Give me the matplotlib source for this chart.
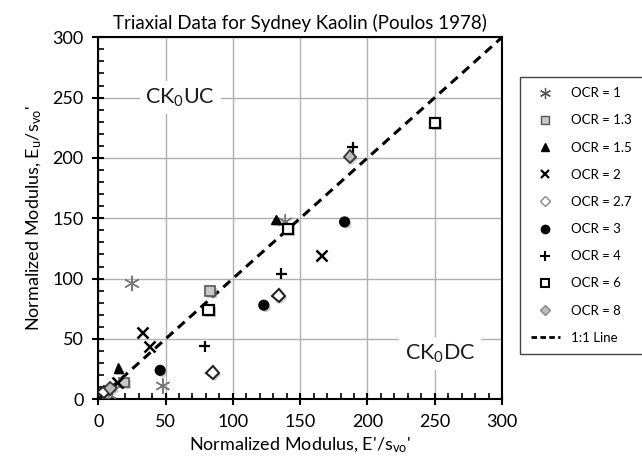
import matplotlib
matplotlib.use("Agg")
import matplotlib.pyplot as plt
import matplotlib.patheffects as pe
from matplotlib.ticker import MultipleLocator
from matplotlib.lines import Line2D

plt.rcParams['font.family'] = ['Lato', 'DejaVu Sans']
plt.rcParams['mathtext.default'] = 'regular'

# Data (E'/svo', Eu/svo')
ocr1_x = [25, 48, 8, 139]
ocr1_y = [96, 11, 4, 147]
ocr13_x = [83, 19]
ocr13_y = [90, 14]
ocr15_x = [15, 132]
ocr15_y = [26, 149]
ocr2_x = [33, 38, 14, 166]
ocr2_y = [55, 44, 14, 119]
ocr27_x = [134, 85, 4]
ocr27_y = [86, 22, 6]
ocr3_x = [46, 123, 183]
ocr3_y = [24, 78, 147]
ocr4_x = [79, 136, 189]
ocr4_y = [44, 104, 209]
ocr6_x = [82, 141, 250]
ocr6_y = [74, 141, 229]
ocr8_x = [187, 9]
ocr8_y = [201, 9]
line_x = [0, 300]
line_y = [0, 300]
labels = ['OCR = 1', 'OCR = 1.3', 'OCR = 1.5', 'OCR = 2', 'OCR = 2.7',
          'OCR = 3', 'OCR = 4', 'OCR = 6', 'OCR = 8', '1:1 Line']

fig = plt.figure(figsize=(6.42, 4.65), dpi=100)
ax = fig.add_axes([0.153, 0.1413, 0.629, 0.7785])

shadow = [pe.SimplePatchShadow(offset=(1.5, -1.5), shadow_rgbFace='#999999', alpha=0.5), pe.Normal()]

styles = [
    dict(marker=(6, 2, 0), markersize=11, color='#777777', markeredgewidth=1.0),
    dict(marker='s', markersize=7, markerfacecolor='#c8c8c8', markeredgecolor='#555555', markeredgewidth=1.2),
    dict(marker='^', markersize=7, color='black'),
    dict(marker='x', markersize=8, color='black', markeredgewidth=1.8),
    dict(marker='D', markersize=6.5, markerfacecolor='white', markeredgecolor='#222222', markeredgewidth=1.5),
    dict(marker='o', markersize=7, color='black'),
    dict(marker='+', markersize=8, color='black', markeredgewidth=1.6),
    dict(marker='s', markersize=7.5, markerfacecolor='white', markeredgecolor='black', markeredgewidth=1.6),
    dict(marker='D', markersize=6.5, markerfacecolor='#bbbbbb', markeredgecolor='#333333', markeredgewidth=1.3),
]
series = [(ocr1_x, ocr1_y), (ocr13_x, ocr13_y), (ocr15_x, ocr15_y), (ocr2_x, ocr2_y),
          (ocr27_x, ocr27_y), (ocr3_x, ocr3_y), (ocr4_x, ocr4_y), (ocr6_x, ocr6_y), (ocr8_x, ocr8_y)]
for (x, y), st in zip(series, styles):
    ax.plot(x, y, linestyle='none', path_effects=shadow, zorder=4, **st)
ax.plot(line_x, line_y, color='black', linestyle=(0, (3, 2)), linewidth=2.2, zorder=3)

# legend handles (smaller markers as in reference)
leg_styles = [
    dict(marker=(6, 2, 0), markersize=8, color='#555555', markeredgewidth=0.9),
    dict(marker='s', markersize=5.5, markerfacecolor='#c8c8c8', markeredgecolor='#555555', markeredgewidth=1.0),
    dict(marker='^', markersize=6, color='black'),
    dict(marker='x', markersize=6, color='black', markeredgewidth=1.6),
    dict(marker='D', markersize=5, markerfacecolor='white', markeredgecolor='#888888', markeredgewidth=1.0),
    dict(marker='o', markersize=6, color='black'),
    dict(marker='+', markersize=7, color='black', markeredgewidth=1.5),
    dict(marker='s', markersize=6, markerfacecolor='white', markeredgecolor='black', markeredgewidth=1.5),
    dict(marker='D', markersize=5, markerfacecolor='#bbbbbb', markeredgecolor='#888888', markeredgewidth=1.0),
]
handles = [Line2D([], [], linestyle='none', **st) for st in leg_styles]
handles.append(Line2D([], [], color='black', linestyle=(0, (2, 1.2)), linewidth=2))

ax.set_xlim(0, 300)
ax.set_ylim(0, 300)
ax.xaxis.set_major_locator(MultipleLocator(50))
ax.yaxis.set_major_locator(MultipleLocator(50))
ax.xaxis.set_minor_locator(MultipleLocator(10))
ax.yaxis.set_minor_locator(MultipleLocator(10))
ax.grid(True, which='major', color='#b0b0b0', linewidth=1.0, zorder=0)
ax.set_axisbelow(True)
ax.tick_params(which='major', direction='inout', length=9, width=1.5, labelsize=13, pad=6)
ax.tick_params(which='minor', direction='in', length=4, width=1.2)
for s in ax.spines.values():
    s.set_linewidth(1.5)
    s.set_color('black')

ax.set_title('Triaxial Data for Sydney Kaolin (Poulos 1978)', fontsize=13.5, pad=6)
ax.set_xlabel("Normalized Modulus, E'/s$_{vo}$'", fontsize=13, labelpad=4)
ax.set_ylabel("Normalized Modulus, E$_u$/s$_{vo}$'", fontsize=13, labelpad=6)

bb = dict(facecolor='white', edgecolor='none', pad=4)
ax.text(61, 250, 'CK$_0$UC', fontsize=15.5, ha='center', va='center', color='#1a1a2a', bbox=bb, zorder=2)
ax.text(254, 38, 'CK$_0$DC', fontsize=15.5, ha='center', va='center', color='#1a1a2a', bbox=bb, zorder=2)

leg = fig.legend(handles, labels, loc='upper left', bbox_to_anchor=(0.81, 0.835), fontsize=9.5,
                 frameon=True, fancybox=False, edgecolor='#444444', framealpha=1,
                 handlelength=2.2, labelspacing=1.15, borderpad=0.8, handletextpad=0.9,
                 borderaxespad=0)
leg.get_frame().set_linewidth(1.0)

fig.savefig('out.png', dpi=100)
